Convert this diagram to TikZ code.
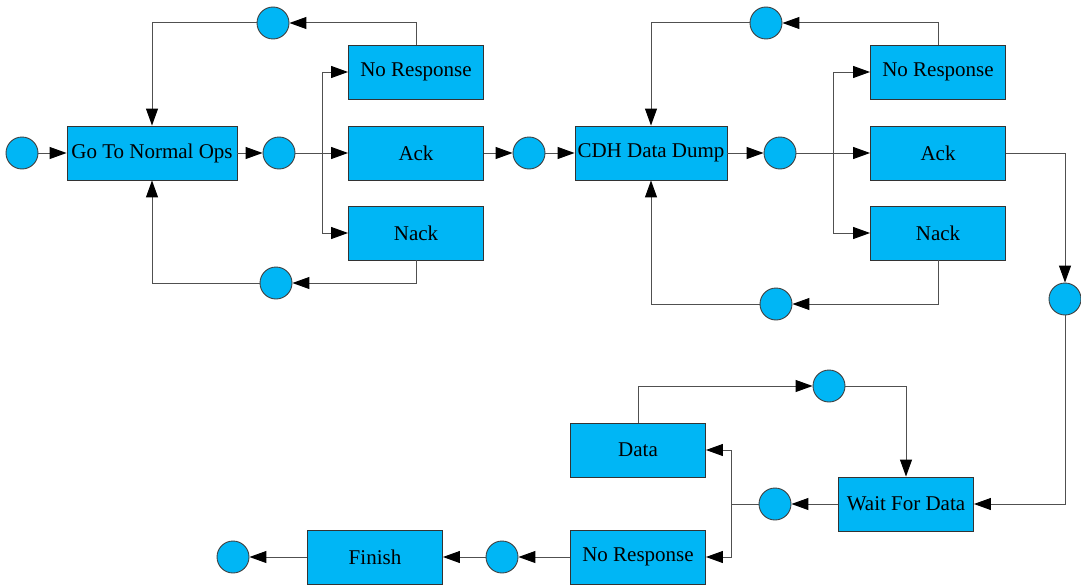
\documentclass[tikz,border=0pt]{standalone}
\usepackage{fontspec}
\setmainfont{Liberation Serif}
\usetikzlibrary{arrows.meta}
\definecolor{stfill}{RGB}{0,182,245}
\definecolor{stline}{RGB}{80,80,80}
\tikzset{
	stbox/.style={rectangle, draw=black!80, fill=stfill, line width=0.9pt, minimum width=135pt, minimum height=54pt, inner sep=0pt, font=\fontsize{21}{24}\selectfont},
	stdot/.style={circle, draw=black!75, fill=stfill, line width=0.9pt, minimum size=32pt, inner sep=0pt},
	conn/.style={draw=stline, line width=1pt},
	arr/.style={conn, -{Triangle[length=17pt,width=12pt,black]}}
}

\begin{document}
\begin{tikzpicture}[x=1pt, y=-1pt]
			%%%%% START %%%%%
			\useasboundingbox (0, 0) rectangle (1081, 586);
			
			% first request
			\node[stdot] (s0) at (22, 153) {};
			\node[stbox, minimum width=170pt] (gtno) at (152, 153) {Go To Normal Ops};
			\node[stdot] (c1) at (279, 153) {};
			\coordinate (b1) at (322, 153);
			\node[stbox] (nr1) at (416, 72) {No Response};
			\node[stbox] (ack1) at (416, 153) {Ack};
			\node[stbox] (nk1) at (416, 233) {Nack};
			\node[stdot] (t1) at (273, 23) {};
			\node[stdot] (u1) at (276, 283) {};
			
			\draw[arr] (s0) -- (gtno);
			\draw[arr] (gtno) -- (c1);
			\draw[conn] (c1) -- (b1);
			\draw[arr] (b1) |- (nr1);
			\draw[arr] (b1) -- (ack1);
			\draw[arr] (b1) |- (nk1);
			\draw[arr] (nr1.north) |- (t1);
			\draw[arr] (t1) -| (gtno.north);
			\draw[arr] (nk1.south) |- (u1);
			\draw[arr] (u1) -| (gtno.south);
			
			% data dump
			\node[stdot] (c2) at (529, 153) {};
			\node[stbox, minimum width=152pt] (cdh) at (651, 153) {CDH Data Dump};
			\node[stdot] (c3) at (780, 153) {};
			\coordinate (b2) at (833, 153);
			\node[stbox] (nr2) at (938, 72) {No Response};
			\node[stbox] (ack2) at (938, 153) {Ack};
			\node[stbox] (nk2) at (938, 233) {Nack};
			\node[stdot] (t2) at (766, 23) {};
			\node[stdot] (u2) at (776, 304) {};
			
			\draw[arr] (ack1) -- (c2);
			\draw[arr] (c2) -- (cdh);
			\draw[arr] (cdh) -- (c3);
			\draw[conn] (c3) -- (b2);
			\draw[arr] (b2) |- (nr2);
			\draw[arr] (b2) -- (ack2);
			\draw[arr] (b2) |- (nk2);
			\draw[arr] (nr2.north) |- (t2);
			\draw[arr] (t2) -| (cdh.north);
			\draw[arr] (nk2.south) |- (u2);
			\draw[arr] (u2) -| (cdh.south);
			
			% waiting for data
			\node[stdot] (c4) at (1065, 299) {};
			\node[stbox] (wfd) at (906, 504) {Wait For Data};
			\node[stdot] (c5) at (775, 504) {};
			\coordinate (b3) at (731, 504);
			\node[stbox] (data) at (638, 450) {Data};
			\node[stbox] (nr3) at (638, 557) {No Response};
			\node[stdot] (c6) at (829, 386) {};
			\node[stdot] (c7) at (502, 557) {};
			\node[stbox] (fin) at (375, 557) {Finish};
			\node[stdot] (c8) at (233, 557) {};
			
			\draw[arr] (ack2) -| (c4);
			\draw[arr] (c4) |- (wfd);
			\draw[arr] (wfd) -- (c5);
			\draw[conn] (c5) -- (b3);
			\draw[arr] (b3) |- (data);
			\draw[arr] (b3) |- (nr3);
			\draw[arr] (data.north) |- (c6);
			\draw[arr] (c6) -| (wfd.north);
			\draw[arr] (nr3) -- (c7);
			\draw[arr] (c7) -- (fin);
			\draw[arr] (fin) -- (c8);
			
			%%%%% END %%%%%
		\end{tikzpicture}
\end{document}
